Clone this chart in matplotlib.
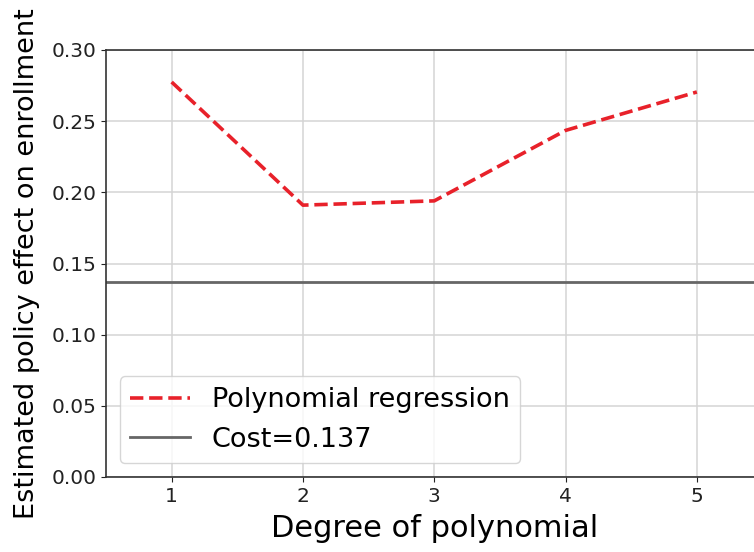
import matplotlib
matplotlib.use("Agg")
import matplotlib.pyplot as plt
import numpy as np

# polynomial degree vs estimated effect
degrees = [1, 2, 3, 4, 5]
effects = [0.2775, 0.191, 0.194, 0.2435, 0.2705]
cost = 0.137

fig = plt.figure(figsize=(7.54, 5.52), dpi=100)
ax = fig.add_axes([106/754, 75/552, 656.5/754, 427/552])

ax.plot(degrees, effects, '--', color='#e8212a', lw=2.6, label='Polynomial regression')
ax.axhline(cost, color='#666666', lw=2, label='Cost=%.3f' % cost)

ax.set_xlim(0.5, 5.5)
ax.set_ylim(0, 0.30)
ax.set_xticks(degrees)
ax.set_yticks(np.arange(0, 0.31, 0.05))
ax.yaxis.set_major_formatter(matplotlib.ticker.FormatStrFormatter('%.2f'))
ax.grid(True, color='#d4d4d4', lw=1.1)
ax.set_axisbelow(True)
for s in ax.spines.values():
	s.set_color('#333333')
	s.set_linewidth(1.2)
ax.tick_params(labelsize=14.5, colors='#222222')

ax.set_xlabel('Degree of polynomial', fontsize=22, labelpad=6)
ax.set_ylabel('Estimated policy effect on enrollment', fontsize=19.5, labelpad=8)
ax.legend(loc='lower left', fontsize=19.5, handlelength=2.2)

fig.savefig('out.png', dpi=100)
